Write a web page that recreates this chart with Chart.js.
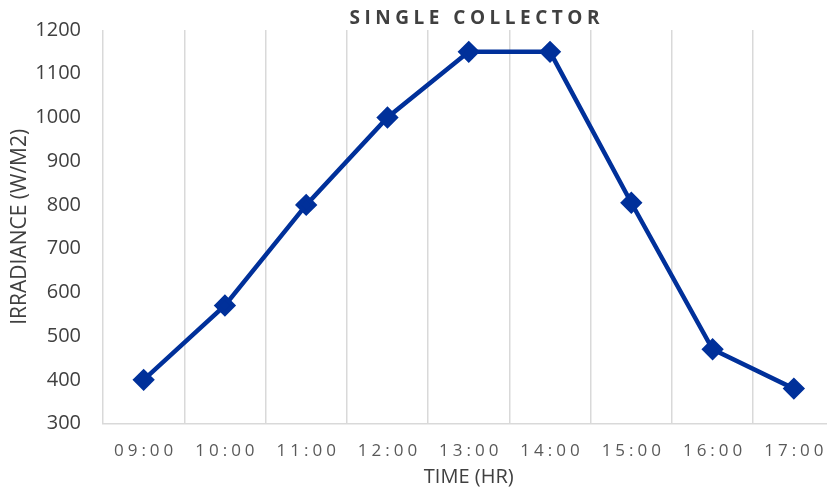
<!DOCTYPE html>
<html>
<head>
<meta charset="utf-8">
<script src="https://cdn.jsdelivr.net/npm/chart.js@4/dist/chart.umd.min.js"></script>
<style>
  html, body { margin: 0; padding: 0; overflow: hidden; background: #fff; }
  canvas { display: block; }
</style>
</head>
<body>
<canvas id="chart" width="847" height="490"></canvas>
<script>
const times = ['09:00', '10:00', '11:00', '12:00', '13:00', '14:00', '15:00', '16:00', '17:00'];
const irradiance = [400, 570, 800, 1000, 1150, 1150, 805, 470, 380];
const yMin = 300;
const yMax = 1200;
const yStep = 100;

const chartTitle = 'SINGLE COLLECTOR';
const xTitle = 'TIME (HR)';
const yTitle = 'IRRADIANCE (W/M2)';

// draws title and x tick labels with letter spacing, like the original
const spacedText = {
  id: 'spacedText',
  afterDraw(chart) {
    const ctx = chart.ctx;
    const area = chart.chartArea;
    const xScale = chart.scales.x;
    ctx.save();
    ctx.textAlign = 'center';
    ctx.textBaseline = 'middle';

    ctx.letterSpacing = '4.5px';
    ctx.fillStyle = '#404040';
    ctx.font = 'bold 19px "Open Sans"';
    ctx.fillText(chartTitle, (area.left + area.right) / 2 + 8, 19);

    ctx.letterSpacing = '4px';
    ctx.fillStyle = '#595959';
    ctx.font = '17px "Open Sans"';
    times.forEach((t, i) => {
      ctx.fillText(t, xScale.getPixelForValue(i) + 2, area.bottom + 28);
    });
    ctx.restore();
  }
};

new Chart(document.getElementById('chart'), {
  type: 'line',
  data: {
    labels: times,
    datasets: [{
      data: irradiance,
      borderColor: '#00309a',
      backgroundColor: '#00309a',
      borderWidth: 4.5,
      pointStyle: 'rectRot',
      pointRadius: 8,
      pointHoverRadius: 8,
      tension: 0
    }]
  },
  options: {
    responsive: false,
    animation: false,
    layout: { padding: { top: 30, left: 7, right: 2, bottom: 1 } },
    plugins: {
      legend: { display: false },
      tooltip: { enabled: false },
      title: { display: false }
    },
    scales: {
      x: {
        offset: true,
        grid: { offset: true, color: '#d9d9d9', lineWidth: 1.5, drawTicks: false },
        border: { color: '#d9d9d9', width: 1.5 },
        ticks: { color: 'rgba(0,0,0,0)', font: { family: 'Open Sans', size: 17 }, padding: 6 },
        title: {
          display: true,
          text: xTitle,
          color: '#404040',
          font: { family: 'Open Sans', size: 20 },
          padding: { top: 9, bottom: 0 }
        }
      },
      y: {
        min: yMin,
        max: yMax,
        afterFit: scale => {
          scale.width = 96;
          scale.paddingTop = 0;
          scale.paddingBottom = 0;
        },
        grid: { display: false, drawTicks: false },
        border: { display: false },
        ticks: {
          stepSize: yStep,
          color: '#404040',
          font: { family: 'Open Sans', size: 20 },
          padding: 22,
          callback: v => String(v)
        },
        title: {
          display: true,
          text: yTitle,
          color: '#404040',
          font: { family: 'Open Sans', size: 21 },
          padding: { top: 0, bottom: 2 }
        }
      }
    }
  },
  plugins: [spacedText]
});
</script>
</body>
</html>
